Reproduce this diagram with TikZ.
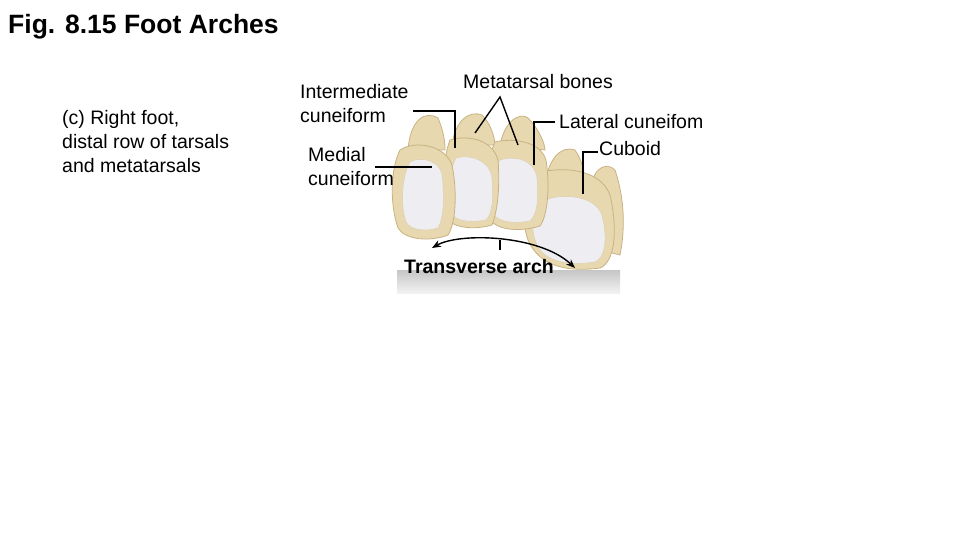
\documentclass[tikz,border=0pt]{standalone}
\usepackage{fontspec}
\setmainfont{Liberation Sans}
\usetikzlibrary{arrows.meta}
\begin{document}
\begin{tikzpicture}[x=1pt,y=-1pt,
  lbl/.style={anchor=north west,align=left,inner sep=0pt,font=\fontsize{19.5}{24}\selectfont},
  lead/.style={line width=1.4pt},
  bone/.style={fill=bonec,draw=bonedk,line width=0.8pt},
  face/.style={fill=facec,draw=bonedk!60,line width=0.6pt}]
\definecolor{bonec}{RGB}{232,216,176}
\definecolor{bonedk}{RGB}{200,178,130}
\definecolor{facec}{RGB}{238,238,242}
\useasboundingbox (0,0) rectangle (960,540);
\node[anchor=north west,inner sep=0pt,font=\bfseries\fontsize{26.5}{30}\selectfont] (title) at (8,14) {Fig. 8.15 Foot Arches};
\node[lbl] (c) at (62,110) {(c) Right foot,\\distal row of tarsals\\and metatarsals};
% ground
\shade[top color=gray!45,bottom color=gray!10] (397,270) rectangle (620,293);
% metatarsal bumps
\path[bone] (408,150) .. controls (410,120) and (425,110) .. (438,118) .. controls (445,135) and (445,145) .. (445,150) -- cycle;
\path[bone] (452,145) .. controls (455,120) and (470,110) .. (482,115) .. controls (492,125) and (495,140) .. (495,145) -- cycle;
\path[bone] (500,145) .. controls (505,120) and (520,112) .. (528,118) .. controls (540,130) and (545,145) .. (545,150) -- cycle;
\path[bone] (545,185) .. controls (548,160) and (560,145) .. (575,150) .. controls (585,165) and (585,180) .. (585,185) -- cycle;
\path[bone] (588,200) .. controls (590,170) and (605,160) .. (615,170) .. controls (625,200) and (625,230) .. (620,255) -- (600,250) -- cycle;
% cuboid
\path[bone] (530,175) .. controls (560,165) and (600,168) .. (610,195) .. controls (618,230) and (615,262) .. (600,268) .. controls (570,272) and (540,268) .. (528,240) .. controls (520,215) and (520,185) .. (530,175) -- cycle;
\path[face] (540,202) .. controls (560,192) and (595,195) .. (602,215) .. controls (608,240) and (605,258) .. (595,262) .. controls (570,266) and (545,262) .. (537,245) .. controls (530,230) and (532,210) .. (540,202) -- cycle;
% lateral
\path[bone] (495,142) .. controls (510,138) and (540,140) .. (546,160) .. controls (550,185) and (548,215) .. (540,226) .. controls (520,232) and (500,230) .. (492,222) .. controls (486,195) and (486,160) .. (495,142) -- cycle;
\path[face] (500,160) .. controls (515,155) and (535,160) .. (537,178) .. controls (539,200) and (537,215) .. (530,221) .. controls (515,224) and (500,222) .. (495,216) .. controls (490,195) and (492,170) .. (500,160) -- cycle;
% intermediate
\path[bone] (450,140) .. controls (465,135) and (492,138) .. (498,160) .. controls (500,185) and (498,210) .. (492,225) .. controls (475,230) and (455,228) .. (448,220) .. controls (442,195) and (442,160) .. (450,140) -- cycle;
\path[face] (456,158) .. controls (470,154) and (490,160) .. (492,178) .. controls (494,200) and (492,214) .. (486,220) .. controls (470,223) and (456,221) .. (452,214) .. controls (447,195) and (449,170) .. (456,158) -- cycle;
% medial
\path[bone] (400,150) .. controls (415,140) and (445,145) .. (452,165) .. controls (458,195) and (455,225) .. (448,235) .. controls (430,242) and (405,240) .. (398,228) .. controls (390,205) and (390,170) .. (400,150) -- cycle;
\path[face] (410,162) .. controls (420,156) and (440,160) .. (442,175) .. controls (445,200) and (443,220) .. (438,228) .. controls (425,232) and (410,230) .. (406,222) .. controls (400,205) and (402,175) .. (410,162) -- cycle;
% arch
\coordinate (aL) at (432,248);
\coordinate (aR) at (575,268);
\coordinate (aT) at (500,240);
\draw[lead,{Stealth[length=9pt,width=7pt]}-{Stealth[length=9pt,width=7pt]}] (aL) .. controls (460,232) and (540,235) .. (aR);
\draw[lead] (aT) -- (500,250);
\node[anchor=north west,inner sep=0pt,font=\bfseries\fontsize{19.5}{24}\selectfont] (ta) at (404,259) {Transverse arch};
% labels and leaders
\node[lbl] (ic) at (300,84) {Intermediate\\cuneiform};
\draw[lead] (413,111) -- (455,111) -- (455,148);
\node[lbl] (mc) at (308,147) {Medial\\cuneiform};
\draw[lead] (375,167) -- (432,167);
\node[lbl] (mb) at (463,74) {Metatarsal bones};
\draw[lead] (475,133) -- (500,97) -- (518,145);
\node[lbl] (lc) at (559,114) {Lateral cuneifom};
\draw[lead] (555,122) -- (534,122) -- (534,165);
\node[lbl] (cb) at (599,141) {Cuboid};
\draw[lead] (598,152) -- (583,152) -- (583,194);
\end{tikzpicture}
\end{document}
